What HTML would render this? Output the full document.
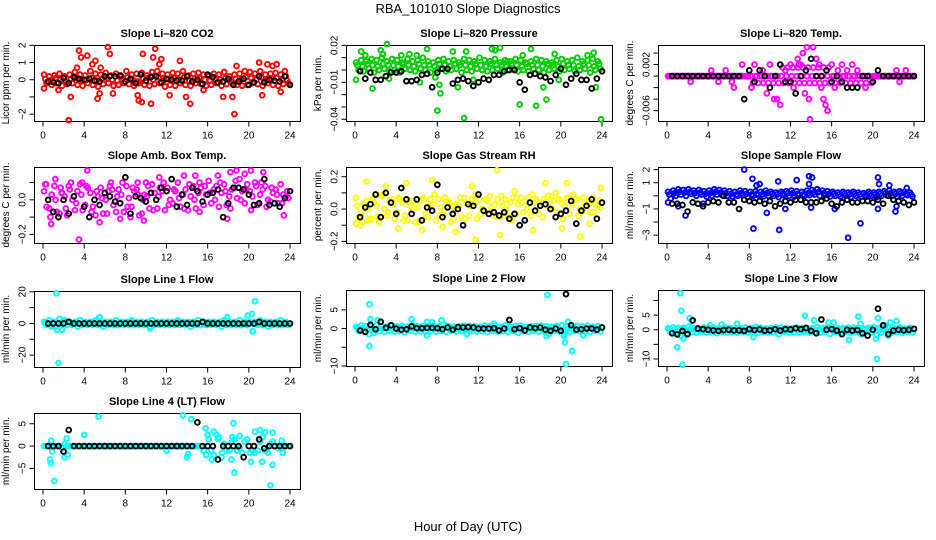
<!DOCTYPE html>
<html><head><meta charset="utf-8">
<style>
html,body{margin:0;padding:0;background:#fff;}
svg{display:block;font-family:"Liberation Sans",sans-serif;}
</style></head>
<body>
<svg id="chart" width="936" height="540" viewBox="0 0 936 540" xmlns="http://www.w3.org/2000/svg">
<text x="468" y="13" text-anchor="middle" font-size="13">RBA_101010  Slope Diagnostics</text>
<text x="468" y="531" text-anchor="middle" font-size="13">Hour of Day (UTC)</text>
</svg>
<script>
const hourTicks=[0,4,8,12,16,20,24];
// CO2
const co2A=[0.3,0.2,0.25,0.35,0.2,0.3,0.45,0.3,0.25,0.5,0.35,0.3,0.4,0.25,0.35,0.2,0.5,0.3,0.35,0.4,0.25,0.45,0.5,0.35,0.3,0.4,0.35,0.5,0.25,0.35,0.4,0.3,0.2,0.35,0.3,0.45,0.2,0.3,0.35,0.5,0.45,0.35,0.5,0.3,0.35,0.4,0.3,0.2];
const co2B=[-0.2,-0.3,-0.2,-0.35,-0.25,-0.2,-0.3,-0.35,-0.2,-0.3,-0.4,-0.25,-0.2,-0.35,-0.3,-0.2,-0.25,-0.35,-0.2,-0.3,-0.35,-0.25,-0.2,-0.4,-0.3,-0.35,-0.2,-0.3,-0.35,-0.2,-0.25,-0.35,-0.3,-0.2,-0.35,-0.25,-0.2,-0.3,-0.35,-0.3,-0.2,-0.25,-0.35,-0.2,-0.3,-0.35,-0.25,-0.2];
const co2C=[0.05,-0.05,0.1,0.0,-0.1,0.05,0.1,-0.05,0.0,0.1,-0.05,0.05,0.1,0.0,-0.05,0.05,0.15,0.0,-0.1,0.05,0.1,0.0,0.15,-0.05,0.05,0.1,0.0,0.15,-0.05,0.05,0.1,0.0,-0.05,0.05,0.0,0.1,-0.1,0.05,0.0,0.15,0.1,0.0,0.15,-0.05,0.05,0.1,0.0,-0.05];
const co2OutH=[0.1,1.5,2.5,2.7,3.3,3.5,3.7,4.3,4.8,5.1,5.3,5.5,5.6,6.3,6.5,6.8,9.2,9.3,9.6,9.7,10.5,10.7,10.9,11.3,11.5,12.3,13.3,13.9,14.3,15.6,17.5,18.4,18.6,18.8,21,21.3,21.8,22.3,22.7,23.1,23.5];
const co2OutV=[-0.5,-0.6,-2.35,-1.0,0.7,1.7,1.3,1.4,0.9,1.1,-1.1,-0.8,0.7,1.9,1.5,-0.8,-0.9,-1.2,-1.3,1.5,-1.4,1.3,1.8,0.9,1.2,-0.9,1.1,-1.0,-1.4,-0.6,-1.0,-1.0,-2.0,0.8,1.0,-0.9,0.9,0.8,0.9,-0.7,0.5];
const co2K=[-0.1,-0.15,-0.2,0.1,-0.2,0.15,0.05,0,0.05,-0.05,-0.1,0.2,0.2,0.2,0.25,-0.1,0.05,-0.2,0.3,-0.05,0.15,0.2,-0.15,0.05,0,-0.05,-0.05,0.2,-0.1,0,-0.25,0.3,0.15,-0.15,-0.1,0.05,-0.3,-0.1,0.05,-0.3,-0.15,0.2,-0.15,0,-0.05,-0.1,0.2,-0.3];
// Pressure
const presA=[0.006,0.008,0.007,0.009,0.008,0.01,0.007,0.009,0.008,0.006,0.009,0.007,0.008,0.01,0.007,0.006,0.008,0.009,0.007,0.008,0.006,0.009,0.008,0.007,0.01,0.008,0.007,0.009,0.006,0.008,0.007,0.009,0.008,0.006,0.007,0.009,0.008,0.007,0.006,0.008,0.009,0.007,0.008,0.01,0.007,0.008,0.009,0.007];
const presB=[0.0,-0.001,0.001,-0.002,0.0,0.001,-0.001,0.0,-0.002,0.001,0.0,-0.001,0.001,0.0,-0.002,0.0,0.001,-0.001,0.0,0.001,-0.002,0.0,-0.001,0.001,0.0,-0.001,0.0,0.001,-0.002,0.0,0.001,-0.001,0.0,-0.001,0.001,0.0,-0.002,0.0,0.001,-0.001,0.0,0.001,-0.001,0.0,0.001,-0.002,0.0,0.001];
const presC=[0.004,0.003,0.005,0.004,0.003,0.005,0.004,0.004,0.003,0.005,0.004,0.003,0.005,0.004,0.004,0.003,0.005,0.004,0.003,0.005,0.004,0.004,0.003,0.005,0.004,0.003,0.005,0.004,0.004,0.003,0.005,0.004,0.003,0.005,0.004,0.004,0.003,0.005,0.004,0.003,0.005,0.004,0.004,0.003,0.005,0.004,0.003,0.005];
const presOutH=[0.1,0.6,1.0,1.7,2.5,2.7,3.1,3.3,4.5,5.3,6.0,6.3,7.0,7.5,7.8,8.0,8.2,8.3,9.5,10,10.6,10.8,11.5,13.3,13.6,14.1,14.8,16,16.3,17.1,17.6,18.3,18.6,19.4,19.8,22.6,23.2,23.4,23.9];
const presOutV=[-0.008,0.015,0.012,-0.015,0.016,0.013,0.021,-0.007,0.012,0.013,0.012,-0.01,0.017,-0.014,-0.006,-0.033,-0.012,-0.019,0.015,-0.014,-0.039,0.015,-0.008,0.017,0.016,0.018,0.007,-0.028,0.012,0.017,-0.029,-0.014,-0.024,0.013,-0.008,0.012,0.014,-0.014,-0.04];
const presK=[-0.001,-0.007,-0.002,-0.008,-0.008,-0.005,-0.002,-0.002,-0.001,-0.009,-0.009,-0.008,-0.004,-0.003,-0.014,-0.002,0.001,0.001,-0.011,-0.008,-0.007,-0.009,-0.013,-0.01,-0.007,-0.008,-0.004,-0.004,-0.001,0.0,0.0,-0.01,-0.016,-0.004,-0.003,-0.005,-0.006,-0.009,-0.004,0.001,-0.012,-0.007,-0.003,-0.008,-0.008,-0.015,-0.007,-0.001];
// Li-820 Temp
const tempA=[0,0,0,0,0,0,0,0,0,0,0,0,0,0,0,0,0,0,0,0,0,0,0,0,0,0,0,0,0,0,0,0,0,0,0,0,0,0,0,0,0,0,0,0,0,0,0,0];
const tempB=[0,0,0,0,0,0,0,0,0,0,0,0,0,0,0,0,-0.0012,-0.0012,-0.0012,-0.0012,-0.0012,-0.0012,-0.0012,-0.0012,-0.0012,-0.0012,-0.0012,-0.0012,-0.0012,-0.0012,-0.0012,-0.0012,-0.0012,-0.0012,-0.0012,-0.0012,-0.0012,-0.0012,-0.0012,-0.0012,0,0,0,0,0,0,0,0];
const tempC=[0,0,0,0,0,0,0,0,0,0,0,0,0,0,0,0,0,0,0,0,0,0,0.0015,0.0015,0.0015,0.0015,0.0015,0.0015,0.0015,0.0015,0.0015,0.0015,0,0,0,0,0,0,0,0,0,0,0,0,0,0,0,0];
const tempOutH=[2.3,4.3,5,5.7,6.3,6.5,7.3,8.2,8.5,9.3,9.7,10,10.4,10.7,11,11.5,12,12.3,12.7,12.8,13,13.2,13.4,13.6,13.8,13.9,14.2,14.5,14.8,15,15.2,15.4,15.6,16,16.3,16.6,17,17.5,18,18.5,19.3,22.3,22.6,23.2];
const tempOutV=[-0.001,0.001,-0.001,0.001,-0.001,-0.002,0.002,-0.002,0.002,0.001,-0.003,0.002,-0.004,-0.004,-0.005,0.001,0.002,-0.002,0.003,0.002,0.002,0.004,-0.003,0.005,-0.004,-0.0075,0.005,0.003,0.002,-0.002,-0.004,-0.005,-0.006,0.002,-0.002,0.001,0.002,0.001,0.002,0.001,-0.002,0.001,-0.001,0.001];
const tempK=[0,0,0,0,0,0,0,0,0,0,0,0,0,0,-0.004,0.001,-0.001,0.001,0,-0.002,0,0.002,-0.001,-0.001,-0.003,0,0.001,0.003,0,0,0.001,-0.001,0,-0.001,-0.002,-0.002,-0.002,0,0,-0.001,0.001,0,0,0,0,0,0,0];
// Amb box temp
const ambA=[0.05,-0.05,0.08,-0.08,0.02,0.06,-0.06,0.09,-0.03,0.04,-0.09,0.07,0.0,0.1,-0.07,0.03,0.08,-0.04,0.06,-0.08,0.02,0.09,-0.05,0.05,0.07,-0.02,0.1,0.03,-0.06,0.08,0.04,-0.03,0.11,0.06,-0.04,0.09,0.02,0.07,0.12,-0.02,0.05,0.1,0.03,0.08,-0.01,0.06,0.09,0.02];
const ambB=[-0.04,0.03,-0.07,0.04,-0.09,0.0,0.05,-0.06,0.07,-0.04,0.02,-0.08,0.05,-0.03,0.06,-0.07,0.01,0.05,-0.09,0.03,-0.05,0.04,0.07,-0.06,0.0,0.05,-0.04,0.06,0.02,-0.05,0.07,0.03,-0.02,0.08,0.04,-0.03,0.06,0.01,0.05,0.09,0.02,-0.03,0.06,0.0,0.04,-0.02,0.03,0.01];
const ambC=[0.09,-0.1,0.0,0.07,-0.05,0.1,-0.02,0.03,0.08,-0.07,0.05,0.01,-0.08,0.06,0.02,0.1,-0.04,0.07,0.03,0.0,0.08,-0.06,0.02,0.1,-0.03,0.06,0.01,-0.05,0.09,0.0,-0.07,0.08,0.04,0.0,0.1,0.05,-0.05,0.11,0.0,0.06,-0.06,0.08,0.1,-0.04,0.07,0.03,-0.02,0.05];
const ambOutH=[0.3,0.8,1.2,1.8,2.5,3.5,3.8,4.3,5.5,6.5,7.5,8.5,9.2,9.8,10,13.7,14.8,17,18.2,18.8,19.6,20.2,21.4,23.4,17.9,11.3,15.2];
const ambOutV=[0.09,-0.14,0.12,0.04,0.08,-0.23,0.1,0.17,-0.13,0.08,-0.11,-0.1,0.1,-0.12,0.1,0.14,0.14,0.14,0.16,0.17,0.15,0.17,0.16,-0.09,-0.11,0.13,0.1];
const ambK=[0.0,-0.07,-0.1,0.0,-0.08,0.02,0.23,-0.04,-0.1,0.0,-0.03,0.04,0.02,-0.01,-0.02,0.13,-0.08,0.02,0.01,-0.01,0.04,0.0,0.07,0.05,0.12,-0.04,0.03,-0.03,0.07,0.05,-0.01,0.03,0.04,0.06,-0.1,-0.02,0.07,0.07,0.06,0.03,-0.03,-0.02,0.12,-0.03,-0.02,-0.04,0.01,0.05];
// RH
const rhA=[0.07,-0.03,0.05,-0.06,0.02,0.08,-0.04,0.06,-0.02,0.04,-0.07,0.05,0.01,0.07,-0.05,0.03,0.06,-0.03,0.05,-0.06,0.02,0.07,-0.04,0.04,0.06,-0.02,0.08,0.03,-0.05,0.06,0.04,-0.03,0.07,0.05,-0.04,0.06,0.02,0.05,0.08,-0.02,0.04,0.07,0.03,0.06,-0.01,0.05,0.07,0.02];
const rhB=[-0.05,0.03,-0.07,0.04,-0.08,0.0,0.05,-0.06,0.06,-0.04,0.02,-0.08,0.05,-0.03,0.06,-0.07,0.01,0.05,-0.08,0.03,-0.05,0.04,0.06,-0.06,0.0,0.05,-0.04,0.06,0.02,-0.05,0.07,0.03,-0.02,0.07,0.04,-0.03,0.06,0.01,0.05,0.06,0.02,-0.03,0.06,0.0,0.04,-0.02,0.03,0.01];
const rhC=[0.02,-0.08,0.0,0.06,-0.05,0.09,-0.02,0.03,0.07,-0.07,0.05,0.01,-0.08,0.06,0.02,0.09,-0.04,0.07,0.03,0.0,0.07,-0.06,0.02,0.09,-0.03,0.06,0.01,-0.05,0.08,0.0,-0.07,0.07,0.04,0.0,0.09,0.05,-0.05,0.08,0.0,0.06,-0.06,0.07,0.09,-0.04,0.07,0.03,-0.02,0.05];
const rhOutH=[0.1,0.5,1.1,1.4,2.1,3,4.2,5,6.5,7.5,8.5,9.8,11.4,11.7,13.8,14.1,15.5,17.3,18.5,19.5,20.1,20.6,21.9,22.8,23.9];
const rhOutV=[-0.09,-0.1,0.17,-0.06,0.09,0.14,-0.12,0.16,-0.13,0.18,-0.11,-0.14,0.14,-0.19,0.24,-0.16,0.11,-0.13,0.16,0.1,-0.12,0.16,-0.17,-0.09,0.13];
const rhK=[-0.05,0.01,0.03,0.09,-0.05,0.1,0.04,-0.03,0.13,0.06,-0.03,0.06,-0.07,0.01,-0.01,0.15,-0.05,0.01,-0.03,0.0,-0.1,0.03,0.02,0.09,-0.01,-0.03,-0.02,-0.04,-0.02,-0.06,-0.03,-0.1,-0.07,0.04,-0.01,0.02,0.03,0.0,-0.05,-0.03,-0.01,0.05,-0.09,-0.01,0.02,0.06,-0.06,0.04];
// Sample flow
const sfA=[0.3,0.4,0.5,0.45,0.5,0.4,0.45,0.35,0.4,0.5,0.45,0.4,0.35,0.3,0.4,0.35,0.3,0.35,0.3,0.4,0.3,0.25,0.3,0.35,0.4,0.35,0.3,0.4,0.45,0.5,0.4,0.35,0.3,0.25,0.3,0.25,0.3,0.25,0.2,0.3,0.25,0.3,0.35,0.4,0.3,0.35,0.3,0.25];
const sfB=[-0.2,0.0,0.1,0.0,0.15,0.0,0.1,-0.05,0.0,0.1,0.05,0.0,-0.05,0.0,0.05,-0.1,0.0,0.05,-0.05,0.0,0.0,-0.1,0.05,0.0,-0.05,0.05,0.0,0.05,0.1,0.0,0.05,-0.05,0.0,-0.05,0.0,-0.1,0.0,-0.05,-0.05,0.0,-0.1,0.0,0.05,0.0,-0.05,0.0,0.05,-0.05];
const sfC=[0.1,0.2,0.3,0.25,0.3,0.2,0.25,0.15,0.2,0.3,0.25,0.2,0.15,0.1,0.2,0.15,0.1,0.15,0.1,0.2,0.15,0.1,0.15,0.2,0.2,0.15,0.1,0.2,0.25,0.3,0.2,0.15,0.15,0.1,0.15,0.1,0.15,0.1,0.05,0.15,0.1,0.15,0.2,0.2,0.15,0.2,0.15,0.1];
const sfOutH=[0.1,1.1,1.8,3.5,7.5,8.3,8.4,8.7,9,9.7,10.8,10.9,11.5,12.6,13.8,14.1,13.8,14,16.3,17.6,18.8,20.5,20.6,20.5,21.6,22.2,22.3,23.3];
const sfOutV=[-0.5,-0.8,-1.5,-0.6,2.0,1.3,-2.5,0.8,0.9,-1.3,1.1,-2.6,-1.0,1.2,1.5,1.4,0.9,-0.9,-1.0,-3.2,-2.1,1.4,0.9,-1.0,0.8,-1.2,-0.8,0.6];
const sfK=[-0.6,-0.6,-0.7,-1.2,-0.5,-0.6,-0.8,-0.5,-0.4,-0.5,0.0,-0.5,-0.5,-1.0,-0.3,-0.4,-0.5,-0.4,-0.6,-0.4,-0.8,-0.6,-0.4,-0.5,-0.3,-0.3,-0.5,-0.5,-0.5,-0.4,-0.2,-0.6,-0.8,-0.5,-0.3,-0.5,-0.5,-0.4,-0.4,-0.5,-0.3,-0.6,0.0,-0.3,-0.4,-0.5,-0.7,-0.5];
// Line 1
const l1A=[1,2,1,3,2,1,1,2,1,1,2,1,1,1,2,1,1,2,1,1,1,2,1,1,1,1,2,1,1,1,2,1,1,1,1,2,1,1,2,1,1,1,2,1,1,1,2,1];
const l1B=[-1,-2,-4,-4,-1,-1,-2,-1,-1,-1,-1,-2,-1,-1,-1,-1,-1,-1,-1,-1,-2,-1,-1,-1,-1,-1,-1,-1,-2,-1,-1,-1,-1,-1,-2,-1,-1,-1,-1,-1,-5,-1,-1,-2,-1,-1,-1,-1];
const l1C=[0,-1,-2,0,1,0,0,-1,0,0,1,0,0,0,-1,0,0,1,0,0,0,-1,0,0,0,0,1,0,0,0,-1,0,0,0,0,1,0,0,-1,0,0,0,1,0,0,0,-1,0];
const l1OutH=[1.3,1.5,5.5,17.9,19.9,20.3,20.6,20.4,10.4];
const l1OutV=[19,-25,4,4,5,6,14,-5,-3];
const l1K=[0,0,0,0,1,0,0,0,0,0,0,0,0,0,0,0,0,0,0,0,0,0,0,0,0,0,0,0,0,0,1,0,0,0,0,0,0,0,0,0,0,1,0,0,0,0,0,0];
// Line 2
const l2A=[0.5,0.8,0.6,0.7,1.0,0.6,0.5,0.8,0.6,0.7,0.5,0.9,0.6,0.7,0.5,0.8,0.6,1.0,0.7,0.5,0.6,0.8,0.7,0.6,0.5,0.8,0.6,0.7,0.5,0.9,0.6,0.7,0.8,0.5,0.6,0.7,0.8,0.6,0.5,0.7,0.9,0.6,0.5,0.7,0.6,0.8,0.5,0.7];
const l2B=[-0.6,-0.8,-1.5,-1.2,-0.7,-0.9,-0.6,-0.8,-0.7,-1.0,-0.6,-0.8,-0.7,-0.9,-0.6,-0.8,-0.7,-0.9,-0.6,-0.8,-0.7,-1.5,-0.6,-0.8,-0.7,-0.9,-0.6,-0.8,-0.7,-0.9,-0.6,-1.2,-0.7,-0.9,-0.6,-0.8,-0.7,-1.5,-0.6,-0.8,-1.5,-0.9,-0.6,-0.8,-0.7,-0.9,-0.6,-0.8];
const l2C=[0.0,0.1,-0.3,0.2,0.0,-0.1,0.1,0.0,-0.1,0.1,0.0,0.2,-0.1,0.0,0.1,-0.1,0.0,0.2,0.0,-0.1,0.1,0.0,-0.2,0.1,0.0,0.1,-0.1,0.0,0.1,0.0,-0.1,0.1,0.0,-0.1,0.1,0.0,0.1,-0.2,0.0,0.1,-0.3,0.0,0.1,-0.1,0.0,0.1,-0.1,0.0];
const l2OutH=[1.4,1.4,1.5,2.2,5.5,7,7.5,8.4,13.5,18.7,20.4,20.5,20.3,21.1,20.7,18.6,7,22.2];
const l2OutV=[6.5,-4.7,2.5,2.2,2.5,1.8,1.7,2.2,1.3,9,-3.7,-9.5,-2,-6,1.8,-2,-1.8,-1.8];
const l2K=[-0.5,-0.9,1.0,-0.2,1.8,0.2,0.9,0.0,-0.3,-0.2,0.6,0.1,0.1,0.2,0.2,0.1,-0.2,0.3,-0.3,0.4,0.3,0.4,0.3,0.0,0.0,0.0,0.1,-0.5,0.0,2.3,-0.2,0.1,-0.5,0.3,0.1,0.3,-0.3,-0.6,0.0,-0.6,9.2,0.9,-0.3,-0.2,0.0,0.0,-0.3,0.3];
// Line 3
const l3A=[0.5,0.8,0.6,0.7,1.0,0.6,0.5,0.8,0.6,0.7,0.5,0.9,0.6,0.7,0.5,0.8,0.6,1.0,0.7,0.5,0.6,0.8,0.7,0.6,0.5,0.8,0.6,0.7,0.5,0.9,0.6,0.7,0.8,0.5,0.6,0.7,0.8,0.6,0.5,0.7,0.9,0.6,0.5,0.7,0.6,0.8,0.5,0.7];
const l3B=[-0.7,-0.9,-2.0,-1.5,-0.8,-1.0,-0.7,-0.9,-0.8,-1.2,-0.7,-0.9,-0.8,-1.0,-0.7,-0.9,-0.8,-1.0,-0.7,-0.9,-0.8,-1.5,-0.7,-0.9,-0.8,-1.0,-0.7,-0.9,-0.8,-1.0,-0.7,-1.4,-0.8,-1.0,-0.7,-0.9,-0.8,-1.6,-0.7,-0.9,-1.8,-1.0,-0.7,-0.9,-0.8,-1.0,-0.7,-0.9];
const l3C=[0.0,0.1,-0.3,0.2,0.0,-0.1,0.1,0.0,-0.1,0.1,0.0,0.2,-0.1,0.0,0.1,-0.1,0.0,0.2,0.0,-0.1,0.1,0.0,-0.2,0.1,0.0,0.1,-0.1,0.0,0.1,0.0,-0.1,0.1,0.0,-0.1,0.1,0.0,0.1,-0.2,0.0,0.1,-0.3,0.0,0.1,-0.1,0.0,0.1,-0.1,0.0];
const l3OutH=[1.3,1.4,1.0,1.5,1.6,2.2,2.4,4.2,5.3,6.8,8.4,13.4,14.3,15.7,16.2,17.7,18.6,18.8,20.3,20.4,20.5,21.2,21.7,22.3,21.5];
const l3OutV=[12.5,6.5,-6,-12,-3,4,3,1.5,1.8,2,-2.5,4.8,3.2,2.5,2.5,-3.5,4.5,2,-3,-10,4,1.5,2.5,3,-2];
const l3K=[-1.2,-1.6,-0.4,-1.5,3.2,0.4,0.2,0.0,-0.2,-0.4,-0.1,0.0,-0.2,-0.2,-0.4,0.2,-0.1,0.1,-0.3,-0.2,0.2,-0.3,0.2,0.1,0.5,0.2,0.6,-0.4,-1.2,3.5,0.0,0.2,-0.3,-1.5,0.0,-0.3,-0.1,-1.2,-2.0,0.0,7.2,1.5,-1.5,-0.3,0.0,-0.2,0.0,0.3];
// Line 4
const l4A=[0,0,0,0,0.5,0,0,0,0,0,0,0,0,0,0,0,0,0,0,0,0,0,0,0,0,0,0,0,0,0,0,-1,1.5,-2,2,0.5,-1,1.5,-0.5,1,-1.5,-1.5,1,-1,0.5,0,0,0];
const l4B=[0,0,0,-0.5,0,0,0,0,0,0,0,0,0,0,0,0,0,0,0,0,0,0,0,0,0,0,0,0,0,0,0,-2,-1,2.5,-2.5,-1,1,-1,-1.5,1.5,-1,-1,2,-1.5,1,-0.5,0,0];
const l4OutH=[0.7,0.75,0.8,1.1,0.9,2.1,2.3,2.4,4,5.4,12,13.6,14.4,14,14.1,15.8,16,16.4,16.6,17,17.4,18.3,18.5,18.6,18.4,19.1,20.2,20.6,21.1,21.3,21.6,22.1,22.3,22.3,23.2,23.3];
const l4OutV=[-3,-3.8,1.2,-7.8,-1.2,-2.5,1.7,-2,2.5,6.6,-1,6.9,6,-2.5,-1.8,4,2.5,-3,3.2,1.6,-1.5,-3,5.1,-5.9,2,2.3,-3.5,3.2,3.6,-3.5,3.1,-8.8,-4.2,3,1.2,-1.5];
const l4K=[0,0,0,-1.2,3.6,0,0,0,0,0,0,0,0,0,0,0,0,0,0,0,0,0,0,0,0,0,0,0,0,5.3,0,0,0,-3,0,0,0,0,-2.5,0,0,1.5,-0.5,0,0,0,0,0];

const panels=[
 {name:'co2',title:'Slope Li\u2013820 CO2',ylab:'Licor ppm per min.',col:'#ff0000',x:34,y:45,ymin:-2.4,ymax:2.02,ticks:[2,1,0,-1,-2],labels:['2','1','0','','\u22122'],A:co2A,B:co2B,C:co2C,oh:co2OutH,ov:co2OutV,K:co2K},
 {name:'pressure',title:'Slope Li\u2013820 Pressure',ylab:'kPa per min.',col:'#00cd00',x:346,y:45,ymin:-0.0414,ymax:0.0203,ticks:[0.02,0.01,0,-0.01,-0.02,-0.03,-0.04],labels:['0.02','','','\u22120.01','','','\u22120.04'],A:presA,B:presB,C:presC,oh:presOutH,ov:presOutV,K:presK},
 {name:'li820-temp',title:'Slope Li\u2013820 Temp.',ylab:'degrees C per min.',col:'#ff00ff',x:658,y:45,ymin:-0.0078,ymax:0.0054,ticks:[0.004,0.002,0,-0.002,-0.004,-0.006],labels:['','0.002','','','','\u22120.006'],A:tempA,B:tempB,C:tempC,oh:tempOutH,ov:tempOutV,K:tempK},
 {name:'amb-box-temp',title:'Slope Amb. Box Temp.',ylab:'degrees C per min.',col:'#ff00ff',x:34,y:167,ymin:-0.25,ymax:0.19,ticks:[0.1,0,-0.1,-0.2],labels:['','0.0','','\u22120.2'],A:ambA,B:ambB,C:ambC,oh:ambOutH,ov:ambOutV,K:ambK},
 {name:'gas-stream-rh',title:'Slope Gas Stream RH',ylab:'percent per min.',col:'#ffff00',x:346,y:167,ymin:-0.21,ymax:0.26,ticks:[0.2,0.1,0,-0.1,-0.2],labels:['0.2','','0.0','','\u22120.2'],A:rhA,B:rhB,C:rhC,oh:rhOutH,ov:rhOutV,K:rhK},
 {name:'sample-flow',title:'Slope Sample Flow',ylab:'ml/min per min.',col:'#0000ff',x:658,y:167,ymin:-3.6,ymax:2.2,ticks:[2,1,0,-1,-2,-3],labels:['2','1','','\u22121','','\u22123'],A:sfA,B:sfB,C:sfC,oh:sfOutH,ov:sfOutV,K:sfK},
 {name:'line1-flow',title:'Slope Line 1 Flow',ylab:'ml/min per min.',col:'#00ffff',x:34,y:291,ymin:-27.5,ymax:20.5,ticks:[20,10,0,-10,-20],labels:['20','','0','','\u221220'],A:l1A,B:l1B,C:l1C,oh:l1OutH,ov:l1OutV,K:l1K},
 {name:'line2-flow',title:'Slope Line 2 Flow',ylab:'ml/min per min.',col:'#00ffff',x:346,y:290,ymin:-10,ymax:10.3,ticks:[5,0,-5,-10],labels:['5','0','','\u221210'],A:l2A,B:l2B,C:l2C,oh:l2OutH,ov:l2OutV,K:l2K},
 {name:'line3-flow',title:'Slope Line 3 Flow',ylab:'ml/min per min.',col:'#00ffff',x:658,y:290,ymin:-12.4,ymax:13.6,ticks:[10,5,0,-5,-10],labels:['','5','0','','\u221210'],A:l3A,B:l3B,C:l3C,oh:l3OutH,ov:l3OutV,K:l3K},
 {name:'line4-flow',title:'Slope Line 4 (LT) Flow',ylab:'ml/min per min.',col:'#00ffff',x:34,y:413,ymin:-9.6,ymax:7.4,ticks:[5,0,-5],labels:['5','0','\u22125'],A:l4A,B:l4B,C:null,oh:l4OutH,ov:l4OutV,K:l4K}
];
const W=266,H=76;
const svg=document.getElementById('chart');
const NS='http://www.w3.org/2000/svg';
function mk(tag,attrs,parent){const e=document.createElementNS(NS,tag);for(const k in attrs)e.setAttribute(k,attrs[k]);parent.appendChild(e);return e;}
panels.forEach(p=>{
  const g=mk('g',{},svg);
  
  
  const xs=h=>p.x+9+h*(247/24);
  const ys=v=>p.y+(p.ymax-v)/(p.ymax-p.ymin)*H;
  const t=mk('text',{x:p.x+W/2,y:p.y-8,'text-anchor':'middle','font-size':'11','font-weight':'bold'},g);
  t.textContent=p.title;
  
  
  const box=mk('rect',{x:p.x+0.5,y:p.y+0.5,width:W,height:H,fill:'none',stroke:'#000','stroke-width':1},g);
  
  
  const by=p.y+H+0.5;
  mk('line',{x1:xs(0),x2:xs(24),y1:by,y2:by,stroke:'#000'},g);
  hourTicks.forEach(h=>{
    mk('line',{x1:xs(h),x2:xs(h),y1:by,y2:by+5,stroke:'#000'},g);
    const tl=mk('text',{x:xs(h),y:by+17,'text-anchor':'middle','font-size':'10'},g);
    tl.textContent=h;
    
    
  });
  const lx=p.x+0.5;
  mk('line',{x1:lx,x2:lx,y1:ys(p.ticks[0]),y2:ys(p.ticks[p.ticks.length-1]),stroke:'#000'},g);
  p.ticks.forEach((v,i)=>{
    const yy=ys(v);
    mk('line',{x1:lx-5,x2:lx,y1:yy,y2:yy,stroke:'#000'},g);
    if(p.labels[i]){
      const tl=mk('text',{x:lx-9,y:yy,'text-anchor':'middle','font-size':'10',transform:'rotate(-90 '+(lx-9)+' '+yy+')'},g);
      tl.textContent=p.labels[i];
      
      
    }
  });
  const yl=mk('text',{x:p.x-25,y:p.y+H/2,'text-anchor':'middle','font-size':'10',transform:'rotate(-90 '+(p.x-25)+' '+(p.y+H/2)+')'},g);
  yl.textContent=p.ylab;
  
  
  const pts=mk('g',{fill:'none','stroke-width':1.9},g);
  
  
  const dot=(h,v,c)=>{const y=ys(v);if(y<p.y-2||y>p.y+H+2)return;mk('circle',{cx:xs(h),cy:y,r:2.4,stroke:c},pts);};
  p.A.forEach((v,i)=>dot(0.1+0.5*i,v,p.col));
  p.B.forEach((v,i)=>dot(0.35+0.5*i,v,p.col));
  if(p.C)p.C.forEach((v,i)=>dot(0.22+0.5*i,v,p.col));
  p.oh.forEach((h,i)=>dot(h,p.ov[i],p.col));
  p.K.forEach((v,i)=>dot(0.5+0.5*i,v,'#000'));
});
</script>
</body></html>
